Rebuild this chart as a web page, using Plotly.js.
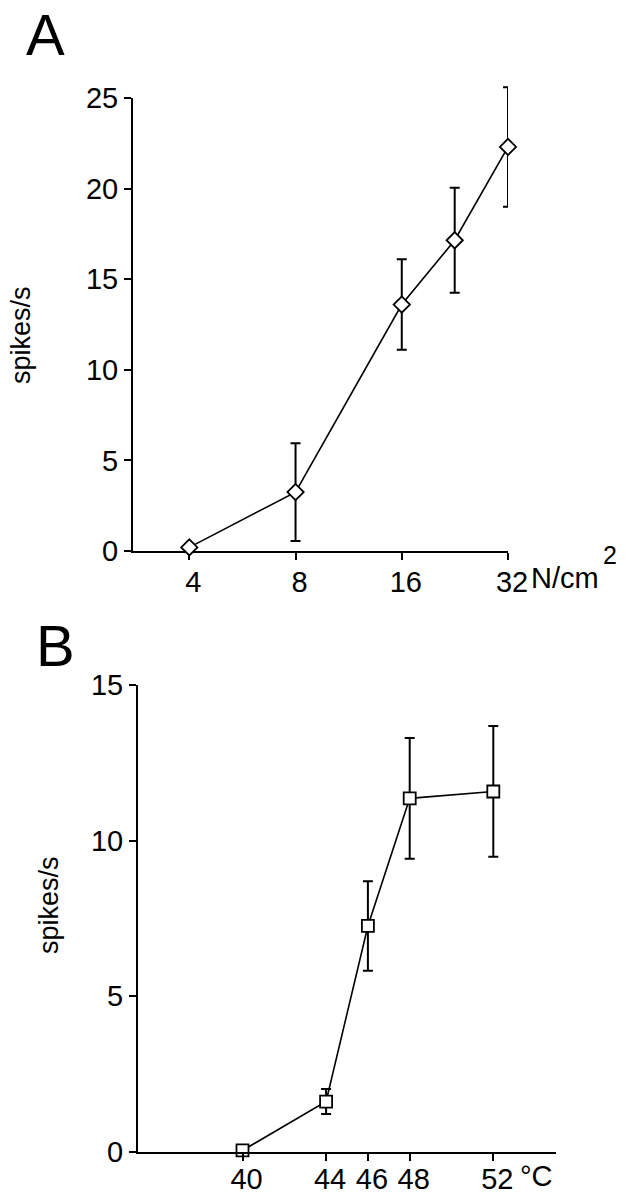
<!DOCTYPE html>
<html>
<head>
<meta charset="utf-8">
<script src="https://cdn.plot.ly/plotly-3.0.1.min.js"></script>
<style>
  html, body { margin: 0; padding: 0; background: #fff; }
  #chart { width: 626px; height: 1200px; }
</style>
</head>
<body>
<div id="chart"></div>
<script>
// Panel A: mechanical stimulation
const pressure = [4, 8, 16, 22.6, 32];          // N/cm^2
const pressureRate = [0.2, 3.25, 13.6, 17.15, 22.3]; // spikes/s
const pressureErr = [0, 2.7, 2.5, 2.9, 3.3];
const pressureTicks = [4, 8, 16, 32];
const pressureTickText = ['4', '8', '16', '32'];
const rateTicksA = [0, 5, 10, 15, 20, 25];

// Panel B: heat stimulation
const temperature = [40, 44, 46, 48, 52];        // °C
const heatRate = [0.05, 1.62, 7.26, 11.36, 11.58];  // spikes/s
const heatErr = [0, 0.4, 1.44, 1.94, 2.1];
const tempTicks = [40, 44, 46, 48, 52];
const rateTicksB = [0, 5, 10, 15];

const FONT = 'Liberation Sans, Arial, Helvetica, sans-serif';
const W = 626, H = 1200;
const px = v => v / W;
const py = v => 1 - v / H;

// Panel A geometry: y=0 at 551px, y=25 at 98px; a hidden twin axis with the same
// scale extends a little higher so the top error bar is not clipped.
const A_BOTTOM = 551, A_TOP = 98, A_TOP_EXT = 80;
const A_MAX = 25;
const A_MAX_EXT = A_MAX * (A_BOTTOM - A_TOP_EXT) / (A_BOTTOM - A_TOP);

// empty trace that keeps the visible panel-A axes as their own subplot
const axesA = {
  x: [], y: [], xaxis: 'x', yaxis: 'y', type: 'scatter', mode: 'markers',
  showlegend: false, hoverinfo: 'skip'
};
const traceA = {
  x: pressure, y: pressureRate, xaxis: 'x', yaxis: 'y3',
  type: 'scatter', mode: 'lines+markers', cliponaxis: false,
  line: { color: '#000', width: 1.6 },
  marker: { symbol: 'diamond', size: 12.5, color: '#fff', line: { color: '#000', width: 1.8 } },
  error_y: { type: 'data', array: pressureErr, visible: true, color: '#000', thickness: 2, width: 5 },
  showlegend: false, hoverinfo: 'skip'
};
const traceB = {
  x: temperature, y: heatRate, xaxis: 'x2', yaxis: 'y2',
  type: 'scatter', mode: 'lines+markers', cliponaxis: false,
  line: { color: '#000', width: 1.6 },
  marker: { symbol: 'square', size: 12, color: '#fff', line: { color: '#000', width: 1.8 } },
  error_y: { type: 'data', array: heatErr, visible: true, color: '#000', thickness: 2, width: 5 },
  showlegend: false, hoverinfo: 'skip'
};

const axisCommon = {
  showline: true, linecolor: '#000', linewidth: 2,
  ticks: 'outside', ticklen: 7, tickwidth: 2, tickcolor: '#000',
  showgrid: false, zeroline: false,
  tickfont: { family: FONT, size: 29, color: '#000' },
  fixedrange: true
};

const layout = {
  width: W, height: H,
  margin: { l: 0, r: 0, t: 0, b: 0 },
  paper_bgcolor: '#fff', plot_bgcolor: 'rgba(0,0,0,0)',
  showlegend: false,
  xaxis: Object.assign({}, axisCommon, {
    type: 'log', range: [Math.log10(2.77), Math.log10(32)], autorange: false,
    domain: [px(133), px(508)], anchor: 'y',
    tickmode: 'array', tickvals: pressureTicks, ticktext: pressureTickText,
    ticklabelshift: 4, ticklabelstandoff: -3
  }),
  yaxis: Object.assign({}, axisCommon, {
    range: [0, A_MAX], autorange: false, domain: [py(A_BOTTOM), py(A_TOP)], anchor: 'x',
    tickmode: 'array', tickvals: rateTicksA
  }),
  yaxis3: {
    range: [0, A_MAX_EXT], autorange: false, domain: [py(A_BOTTOM), py(A_TOP_EXT)], anchor: 'x',
    visible: false, showgrid: false, zeroline: false, fixedrange: true
  },
  xaxis2: Object.assign({}, axisCommon, {
    range: [35, 55], domain: [px(138), px(556)], anchor: 'y2',
    tickmode: 'array', tickvals: tempTicks,
    ticklabelshift: 4, ticklabelstandoff: -7
  }),
  yaxis2: Object.assign({}, axisCommon, {
    range: [0, 15], domain: [py(1152), py(685)], anchor: 'x2',
    tickmode: 'array', tickvals: rateTicksB
  }),
  annotations: [
    { text: 'A', xref: 'paper', yref: 'paper', x: px(24), y: 1, xanchor: 'left', yanchor: 'top',
      showarrow: false, font: { family: FONT, size: 58, color: '#000' } },
    { text: 'B', xref: 'paper', yref: 'paper', x: px(34), y: py(611), xanchor: 'left', yanchor: 'top',
      showarrow: false, font: { family: FONT, size: 58, color: '#000' } },
    { text: 'spikes/s', xref: 'paper', yref: 'paper', x: px(21), y: py(335), xanchor: 'center', yanchor: 'middle',
      textangle: -90, showarrow: false, font: { family: FONT, size: 27, color: '#000' } },
    { text: 'spikes/s', xref: 'paper', yref: 'paper', x: px(49), y: py(905), xanchor: 'center', yanchor: 'middle',
      textangle: -90, showarrow: false, font: { family: FONT, size: 27, color: '#000' } },
    { text: 'N/cm', xref: 'paper', yref: 'paper', x: px(529), y: py(578), xanchor: 'left', yanchor: 'middle',
      showarrow: false, font: { family: FONT, size: 29, color: '#000' } },
    { text: '2', xref: 'paper', yref: 'paper', x: px(601), y: py(555), xanchor: 'left', yanchor: 'middle',
      showarrow: false, font: { family: FONT, size: 25, color: '#000' } },
    { text: '°C', xref: 'paper', yref: 'paper', x: px(518), y: py(1176), xanchor: 'left', yanchor: 'middle',
      showarrow: false, font: { family: FONT, size: 29, color: '#000' } }
  ]
};

Plotly.newPlot('chart', [axesA, traceA, traceB], layout, { staticPlot: true, displayModeBar: false });
</script>
</body>
</html>
